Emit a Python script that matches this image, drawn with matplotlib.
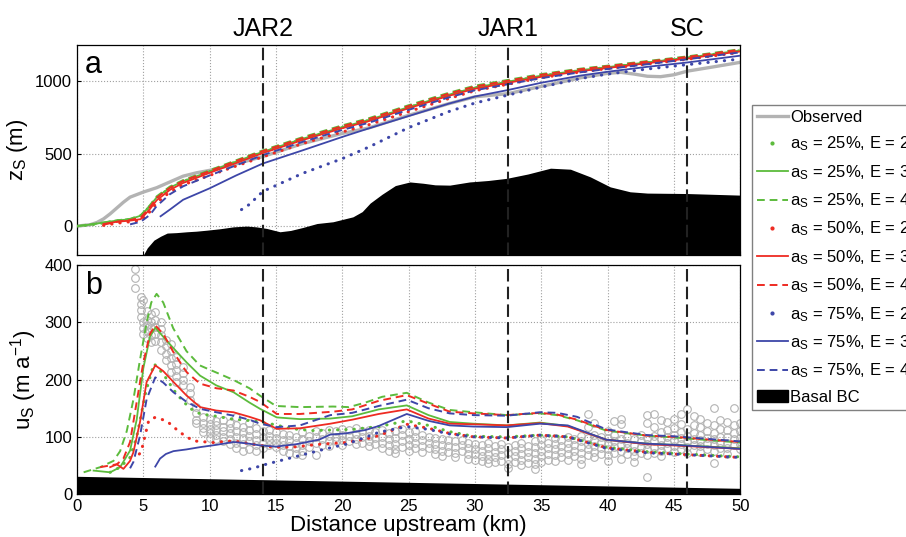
import matplotlib
matplotlib.use('Agg')
import matplotlib.pyplot as plt
from matplotlib.lines import Line2D
from matplotlib.patches import Patch
import numpy as np

plt.rcParams['font.family'] = ['Liberation Sans', 'DejaVu Sans']
plt.rcParams['mathtext.default'] = 'regular'

nan = np.nan

# ---------------- panel a: surface elevation (m) ----------------
km_z = [0, 1, 2, 3, 4, 4.8, 5.5, 6, 7, 8, 10, 12, 14, 17, 20, 22, 25, 28, 30, 32.5, 35, 38, 40, 43, 46, 50]
z_g4 = [0, 12, 25, 40, 50, 75, 145, 205, 273, 318, 386, 455, 523, 614, 696, 745, 835, 920, 970, 1010, 1050, 1088, 1108, 1140, 1172, 1222]
z_r4 = [nan, nan, 10, 30, 42, 58, 132, 195, 265, 312, 380, 450, 518, 608, 690, 739, 829, 914, 964, 1004, 1045, 1084, 1104, 1136, 1168, 1218]
z_g3 = [0, 10, 25, 38, 48, 72, 140, 198, 266, 310, 378, 446, 513, 603, 684, 733, 822, 907, 957, 998, 1039, 1078, 1098, 1131, 1163, 1213]
z_r3 = [nan, nan, 15, 30, 38, 48, 118, 178, 250, 298, 368, 436, 504, 594, 676, 725, 814, 899, 949, 990, 1031, 1071, 1092, 1125, 1157, 1207]
z_b4 = [nan, nan, nan, nan, 12, 30, 78, 138, 220, 275, 350, 420, 490, 582, 664, 714, 803, 888, 938, 980, 1022, 1063, 1085, 1118, 1152, 1200]
z_g2 = [0, 8, 22, 36, 46, 68, 138, 196, 262, 308, 376, 444, 511, 600, 681, 730, 819, 904, 954, 995, 1036, 1075, 1096, 1129, 1161, 1211]
z_r2 = [nan, nan, 5, 20, 30, 40, 100, 160, 235, 285, 350, 415, 478, 570, 650, 700, 790, 880, 935, 980, 1025, 1065, 1088, 1120, 1152, 1200]

km_z_b3 = [6.3, 7, 8, 10, 12, 14, 17, 20, 22, 25, 28, 30, 32.5, 35, 38, 40, 43, 46, 50]
z_b3 = [68, 114, 182, 261, 350, 432, 523, 616, 675, 760, 845, 895, 940, 990, 1040, 1066, 1100, 1130, 1177]
km_z_b2 = [12.4, 13.0, 14, 17, 20, 22, 25, 28, 30, 32.5, 35, 38, 40, 43, 46, 50]
z_b2 = [114, 150, 239, 364, 466, 546, 680, 790, 850, 905, 960, 1020, 1050, 1085, 1115, 1154]

km_obs_z = [0, 1, 1.5, 2, 2.5, 3, 3.5, 4, 5, 6, 7, 8, 9, 10, 12, 14, 17, 20, 22, 25, 28, 30, 32.5,
            35, 38, 40, 41, 42, 43, 44, 45, 46, 48, 50]
obs_z = [0, 10, 25, 50, 85, 125, 165, 200, 235, 265, 305, 345, 368, 385, 430, 480, 570, 640, 678, 765, 845,
         893, 915, 965, 1025, 1055, 1062, 1050, 1035, 1032, 1045, 1070, 1100, 1131]

bed_km = [5.0, 5.3, 5.8, 6.3, 6.8, 7.5, 8.3, 9.0, 9.8, 10.8, 11.8, 12.8, 13.5, 14.3, 15.3, 16.1, 17.0,
          18.1, 19.3, 20.8, 21.5, 22.1, 23.0, 24.0, 25.1, 26.1, 27.0, 28.1, 29.6, 31.0, 32.4, 34.0,
          35.7, 37.2, 38.7, 40.2, 41.7, 43.0, 46.0, 50.0]
bed_z = [-200, -150, -97, -70, -48, -45, -39, -35, -28, -18, -5, 0, -5, -16, -39, -30, -10, 18, 30, 64,
         100, 159, 220, 280, 305, 296, 285, 283, 305, 315, 330, 360, 400, 393, 340, 271, 237, 228, 225, 214]

# ---------------- panel b: surface velocity (m/a) ----------------
km_u_g4 = [0.5, 1.75, 2.75, 3.25, 3.75, 4.25, 4.75, 5.25, 5.6, 6.0, 6.5, 7.25, 8.25, 9.25, 10.25, 11.75, 13.0,
           13.8, 15.0, 16.8, 19.3, 20.5, 21.75, 23, 24.86, 26.5, 28.1, 29.9, 32.4, 34.9, 36.2, 37.7, 39.9, 43, 45, 50]
u_g4 = [38, 47, 58, 75, 110, 165, 235, 300, 335, 350, 335, 290, 250, 225, 215, 200, 185, 172, 154, 152, 153,
        152, 160, 170, 177, 160, 147, 143, 138, 141, 138, 129, 111, 102, 99, 90]
km_u_r4 = [1.75, 3.0, 3.5, 4.0, 4.5, 5.0, 5.5, 5.9, 6.5, 7.27, 8.27, 9.28, 10.5, 11.8, 13.0, 13.8, 15.06, 16.8,
           19.3, 20.75, 22.75, 24.86, 26.5, 28.1, 29.9, 32.4, 34.9, 36.2, 37.7, 39.9, 43, 45, 50]
u_r4 = [47, 52, 62, 91, 161, 230, 280, 295, 280, 248, 213, 193, 185, 181, 170, 161, 140, 140, 144, 148, 163,
        173, 158, 144, 141, 138, 142, 139, 130, 112, 102, 100, 91]
km_u_g3 = [1.25, 2.5, 3.25, 4.0, 4.5, 5.0, 5.5, 5.9, 6.5, 7.27, 8.27, 9.28, 10.5, 11.8, 13.0, 13.8, 15.06, 16.8,
           19.1, 20.75, 22.75, 24.86, 26.5, 28.1, 29.9, 32.4, 34.9, 37, 39.9, 43, 45, 50]
u_g3 = [41, 38, 47, 76, 130, 220, 275, 291, 275, 255, 230, 207, 190, 178, 160, 149, 134, 131, 132, 136, 148,
        155, 138, 126, 123, 120, 125, 119, 95, 88, 86, 80]
km_u_r3 = [2.5, 3.0, 3.5, 4.0, 4.25, 4.75, 5.25, 5.9, 6.5, 7.27, 8.27, 9.28, 10.5, 11.8, 13.0, 13.8, 15.06, 16.8,
           19.1, 20.75, 22.75, 24.86, 26.5, 28.1, 29.9, 32.4, 34.9, 37, 39.9, 43, 45, 50]
u_r3 = [47, 52, 44, 58, 73, 126, 196, 225, 215, 196, 172, 152, 146, 143, 135, 129, 114, 115, 123, 130, 140,
        148, 132, 123, 122, 120, 124, 118, 95, 87, 85, 79]
km_u_b4 = [4.0, 4.25, 4.75, 5.25, 5.9, 6.5, 7.27, 8.27, 9.28, 10.5, 11.8, 13.0, 13.8, 15.06, 16.8, 19.1, 20.75,
           22.75, 24.86, 26.5, 28.1, 29.9, 32.4, 34.9, 36.2, 37.7, 38.7, 39.9, 43, 45, 50]
u_b4 = [45, 56, 102, 166, 204, 195, 178, 161, 149, 143, 137, 130, 123, 117, 120, 138, 142, 154, 165, 150, 141,
        138, 137, 143, 142, 135, 125, 113, 103, 101, 92]
km_u_b3 = [5.9, 6.26, 6.7, 7.27, 8.25, 9.28, 10.5, 11.8, 13.0, 13.8, 15.0, 16.5, 18.25, 19.1, 20.25, 21.75,
           22.75, 24.86, 26.5, 28.1, 29.9, 32.4, 34.9, 37, 39.9, 43, 45, 50]
u_b3 = [48, 62, 70, 75, 78, 82, 86, 91, 88, 85, 83, 87, 95, 104, 106, 112, 119, 140, 128, 120, 118, 117, 123,
        120, 95, 88, 86, 79]
km_u_g2 = [2.5, 3.25, 4.0, 4.5, 5.2, 5.8, 6.5, 7.5, 8.5, 9.3, 10.25, 11.75, 13.25, 14.75, 16.25, 17.75, 19.25,
           20.75, 22.75, 24.86, 26.5, 28.1, 29.9, 32.4, 34.9, 37, 39.9, 43, 45, 50]
u_g2 = [38, 47, 64, 100, 180, 228, 210, 175, 150, 140, 137, 131, 128, 122, 114, 111, 112, 113, 118, 128, 120,
        109, 101, 100, 103, 100, 82, 74, 71, 65]
km_u_r2 = [4.7, 4.85, 5.4, 5.88, 6.75, 7.75, 8.75, 10.25, 11.75, 13.25, 14.75, 16.25, 18.25, 20.25, 21.75,
           22.75, 24.86, 26.5, 28.1, 29.9, 32.4, 34.9, 37, 39.9, 43, 45, 50]
u_r2 = [70, 75, 128, 134, 128, 108, 93, 90, 93, 87, 82, 82, 87, 90, 96, 102, 122, 115, 106, 100, 98, 103, 100,
        81, 73, 70, 64]
km_u_b2 = [12.4, 13.25, 14.25, 15.75, 17.25, 18.75, 20.25, 21.75, 22.75, 24.86, 26.5, 28.1, 29.9, 32.4, 34.9,
           37, 39.9, 43, 45, 50]
u_b2 = [41, 45, 52, 61, 70, 79, 87, 99, 108, 118, 113, 105, 100, 98, 103, 100, 80, 72, 70, 64]

bc_km = [0, 50]
bc_u = [31, 10]

# observed velocities, one column of readings per distance
obs_col_km = [4.4, 4.8, 5.0, 5.3, 5.6, 5.9, 6.3, 6.7, 7.1, 7.5, 8.0, 8.5, 9.0, 9.5, 10.0, 10.5, 11.0, 11.5,
              12.0, 12.5, 13.0, 13.5, 14.0, 14.5, 15.0, 15.5, 16.0, 16.5, 17.0, 17.5, 18.0, 18.5, 19.0,
              19.5, 20.0, 20.5, 21.0, 21.5, 22.0, 22.5, 23.0, 23.5, 24.0, 24.5, 25.0, 25.5, 26.0, 26.5,
              27.0, 27.5, 28.0, 28.5, 29.0, 29.5, 30.0, 30.5, 31.0, 31.5, 32.0, 32.5, 33.0, 33.5, 34.0,
              34.5, 35.0, 35.5, 36.0, 36.5, 37.0, 37.5, 38.0, 38.5, 39.0, 39.5, 40.0, 40.5, 41.0, 41.5,
              42.0, 42.5, 43.0, 43.5, 44.0, 44.5, 45.0, 45.5, 46.0, 46.5, 47.0, 47.5, 48.0, 48.5, 49.0,
              49.5, 50.0]
obs_col_u = [
    [394, 377, 360], [345, 333, 322, 310], [340, 300, 290, 280], [320, 305, 295, 285, 272],
    [315, 300, 290, 278, 265], [318, 305, 292, 280, 268], [300, 289, 278, 265, 252], [270, 258, 245, 235],
    [262, 250, 238, 226, 214], [240, 228, 217, 206, 196], [223, 211, 200, 190], [188, 177, 165],
    [153, 142, 130, 124], [135, 125, 116, 108], [132, 122, 114, 106, 98], [128, 120, 112, 104, 96],
    [130, 118, 110, 100, 92], [125, 115, 106, 97, 88], [135, 120, 110, 100, 90, 80], [118, 108, 98, 88, 76],
    [125, 112, 102, 92, 78], [115, 105, 95, 85, 76], [110, 100, 90, 80], [112, 102, 94, 86],
    [108, 98, 90, 82], [105, 95, 85, 75], [104, 94, 84, 72], [100, 90, 80, 70], [108, 96, 86, 76, 68],
    [102, 92, 82], [110, 100, 90, 68], [106, 96, 86], [112, 102, 92, 84], [110, 100, 92],
    [114, 104, 95, 86], [112, 102, 92], [115, 105, 96, 88], [110, 100, 90], [112, 102, 92, 84],
    [108, 98, 88], [112, 100, 90, 80], [106, 96, 86, 76], [110, 98, 88, 78, 72], [114, 104, 92, 82],
    [108, 96, 86, 76], [110, 100, 90, 80], [104, 94, 84, 74], [100, 90, 80], [98, 88, 78, 70],
    [96, 86, 76, 66], [94, 84, 74], [92, 82, 72, 65], [95, 85, 75], [90, 80, 70, 62], [88, 78, 70, 60],
    [85, 75, 66, 58], [90, 80, 70, 62, 54], [84, 74, 64, 56], [88, 78, 68, 58], [82, 72, 62, 52, 45],
    [86, 76, 66, 56], [90, 80, 70, 60, 50], [84, 74, 64, 54], [92, 82, 72, 62, 52, 44],
    [96, 86, 76, 66, 56], [90, 80, 70, 60], [98, 88, 78, 68, 58], [94, 84, 74, 64],
    [100, 90, 80, 70, 60], [96, 86, 76, 66], [102, 92, 82, 72, 62, 52], [140, 118, 98, 88, 78, 68],
    [125, 104, 94, 84, 74, 64], [100, 90, 80, 70], [110, 98, 88, 78, 68, 58], [128, 104, 92, 82, 72],
    [132, 122, 96, 86, 76, 62], [100, 90, 80, 70], [96, 86, 76, 66, 56], [104, 92, 82, 72],
    [138, 124, 98, 88, 78, 68, 30], [140, 118, 102, 92, 82, 72], [130, 108, 96, 86, 76, 66],
    [126, 112, 100, 90, 80], [132, 116, 104, 94, 84, 74], [140, 122, 108, 98, 88, 78],
    [148, 114, 102, 92, 82, 72], [136, 120, 106, 96, 86], [132, 118, 104, 94, 84, 74],
    [124, 110, 98, 88, 78], [150, 120, 106, 96, 86, 76, 55], [130, 114, 100, 90, 80],
    [126, 112, 100, 90, 80, 70], [150, 120, 106, 96, 86], [124, 110, 98, 88, 78]]

obs_km = [k for k, col in zip(obs_col_km, obs_col_u) for _ in col]
obs_u = [v for col in obs_col_u for v in col]

sites = ['JAR2', 'JAR1', 'SC']
site_km = [14, 32.5, 46]

aS_levels = ['25%', '50%', '75%']
E_levels = ['2', '3', '4']

green = '#5cbb3c'
red = '#ee2b22'
blue = '#3d46a8'
grey = '#b3b3b3'

dash = (0, (4, 2.5))
dots = (0, (0.1, 2.6))

fig = plt.figure(figsize=(9.06, 5.37), dpi=100)
ax1 = fig.add_axes([0.085, 0.525, 0.732, 0.391])
ax2 = fig.add_axes([0.085, 0.080, 0.732, 0.426])

for ax in (ax1, ax2):
    ax.set_axisbelow(True)
    ax.grid(True, linestyle=':', color='#a0a0a0', linewidth=0.8)
    ax.set_xlim(0, 50)
    ax.set_xticks(np.arange(0, 51, 5))
    ax.tick_params(direction='in', length=3, labelsize=12, top=False, right=False)
    for s in ax.spines.values():
        s.set_linewidth(0.9)

# panel a
ax1.fill_between(bed_km, bed_z, -200, color='black', zorder=1, linewidth=0)
ax1.plot(km_obs_z, obs_z, color=grey, lw=2.4, zorder=2)
ax1.plot(km_z, z_g2, color=green, lw=2.2, linestyle=dots, dash_capstyle='round', zorder=3)
ax1.plot(km_z, z_g3, color=green, lw=1.3, zorder=3)
ax1.plot(km_z, z_g4, color=green, lw=1.4, linestyle=dash, zorder=3)
ax1.plot(km_z, z_r2, color=red, lw=2.2, linestyle=dots, dash_capstyle='round', zorder=3)
ax1.plot(km_z, z_r3, color=red, lw=1.3, zorder=3)
ax1.plot(km_z, z_r4, color=red, lw=1.4, linestyle=dash, zorder=3)
ax1.plot(km_z_b2, z_b2, color=blue, lw=2.2, linestyle=dots, dash_capstyle='round', zorder=3)
ax1.plot(km_z_b3, z_b3, color=blue, lw=1.3, zorder=3)
ax1.plot(km_z, z_b4, color=blue, lw=1.4, linestyle=dash, zorder=3)
ax1.set_ylim(-200, 1250)
ax1.set_yticks([0, 500, 1000])
ax1.set_xticklabels([])
ax1.set_ylabel('z$_S$ (m)', fontsize=16, labelpad=4)
ax1.text(0.012, 0.975, 'a', transform=ax1.transAxes, fontsize=22, va='top', ha='left')

# panel b
ax2.fill_between(bc_km, bc_u, 0, color='black', zorder=1, linewidth=0)
ax2.plot(obs_km, obs_u, linestyle='none', marker='o', markersize=5.5, markerfacecolor='none',
         markeredgecolor=grey, markeredgewidth=0.8, zorder=2)
ax2.plot(km_u_g2, u_g2, color=green, lw=2.2, linestyle=dots, dash_capstyle='round', zorder=3)
ax2.plot(km_u_g3, u_g3, color=green, lw=1.3, zorder=3)
ax2.plot(km_u_g4, u_g4, color=green, lw=1.4, linestyle=dash, zorder=3)
ax2.plot(km_u_r2, u_r2, color=red, lw=2.2, linestyle=dots, dash_capstyle='round', zorder=3)
ax2.plot(km_u_r3, u_r3, color=red, lw=1.3, zorder=3)
ax2.plot(km_u_r4, u_r4, color=red, lw=1.4, linestyle=dash, zorder=3)
ax2.plot(km_u_b2, u_b2, color=blue, lw=2.2, linestyle=dots, dash_capstyle='round', zorder=3)
ax2.plot(km_u_b3, u_b3, color=blue, lw=1.3, zorder=3)
ax2.plot(km_u_b4, u_b4, color=blue, lw=1.4, linestyle=dash, zorder=3)
ax2.set_ylim(0, 400)
ax2.set_yticks([0, 100, 200, 300, 400])
ax2.set_xlabel('Distance upstream (km)', fontsize=16, labelpad=1)
ax2.set_ylabel('u$_S$ (m a$^{-1}$)', fontsize=16, labelpad=4)
ax2.text(0.012, 0.975, 'b', transform=ax2.transAxes, fontsize=22, va='top', ha='left')

for name, k in zip(sites, site_km):
    for ax in (ax1, ax2):
        ax.axvline(k, color='#222222', lw=1.5, linestyle=(0, (6, 2.5)), zorder=4)
    ax1.text(k, 1.02, name, transform=ax1.get_xaxis_transform(), fontsize=18,
             ha='center', va='bottom')

handles = [Line2D([], [], color=grey, lw=2.4)]
labels = ['Observed']
for c, a in zip([green, red, blue], aS_levels):
    for e in E_levels:
        if e == '2':
            handles.append(Line2D([], [], color=c, marker='.', markersize=4, linestyle='none'))
        elif e == '3':
            handles.append(Line2D([], [], color=c, lw=1.3))
        else:
            handles.append(Line2D([], [], color=c, lw=1.4, linestyle=dash))
        labels.append('a$_S$ = ' + a + ', E = ' + e)
handles.append(Patch(facecolor='black', edgecolor='black'))
labels.append('Basal BC')

fig.legend(handles, labels, loc='upper left', bbox_to_anchor=(752 / 906, 1 - 105 / 537),
           bbox_transform=fig.transFigure, fontsize=12, frameon=True, fancybox=False,
           edgecolor='#808080', framealpha=1, handlelength=1.85, handletextpad=0.15,
           labelspacing=0.58, borderpad=0.3, borderaxespad=0)

fig.savefig('out.png', dpi=100)
